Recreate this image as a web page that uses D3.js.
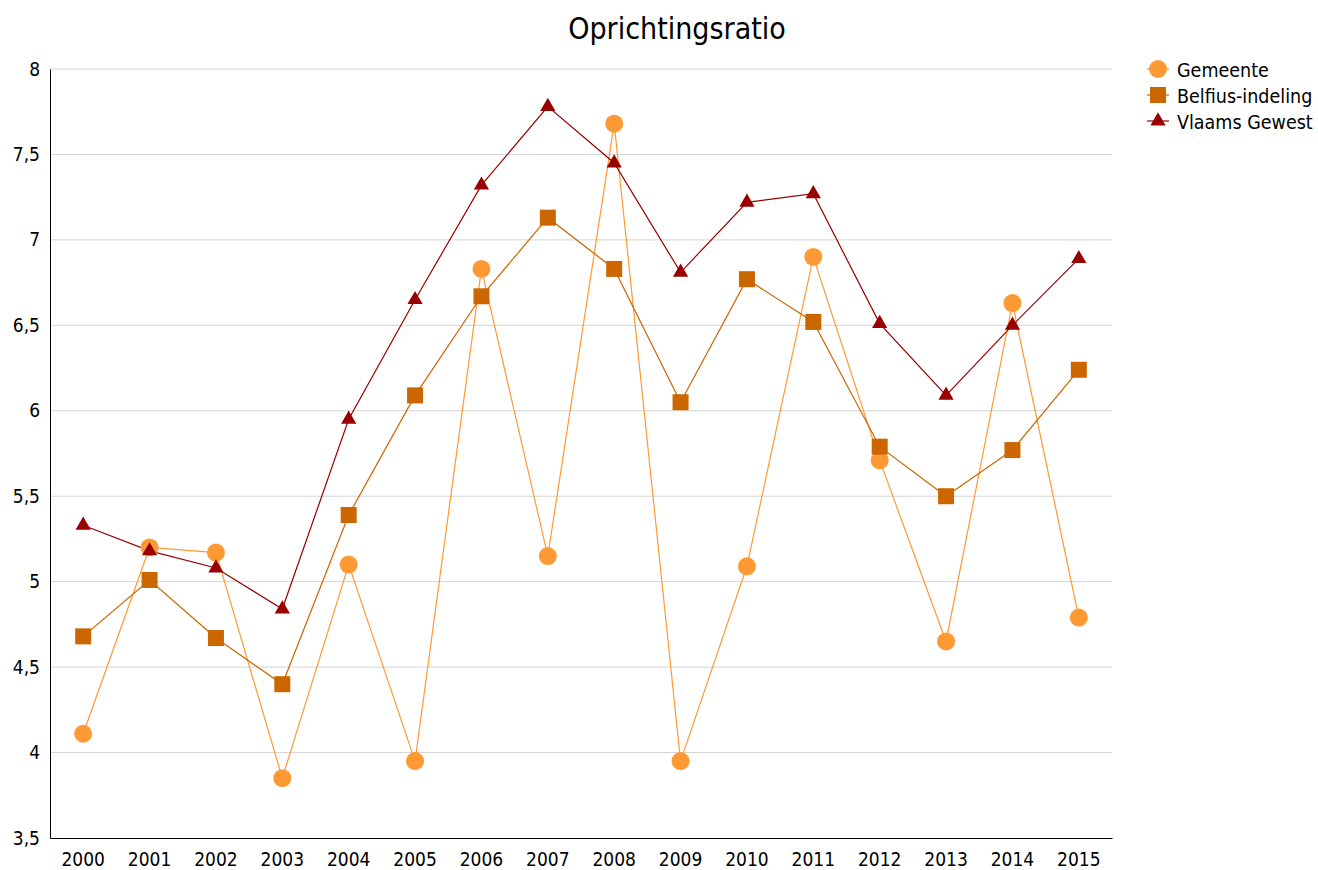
<!DOCTYPE html>
<html>
<head>
<meta charset="utf-8">
<script src="https://cdn.jsdelivr.net/npm/d3@7"></script>
<style>
  body { margin: 0; background: #fff; }
  svg { display: block; font-family: "DejaVu Sans Condensed", "DejaVu Sans", sans-serif; }
</style>
</head>
<body>
<svg id="chart" width="1318" height="870"></svg>
<script>
// Years on the horizontal axis
const years = ["2000","2001","2002","2003","2004","2005","2006","2007",
               "2008","2009","2010","2011","2012","2013","2014","2015"];

// Oprichtingsratio per series
const gemeente = [4.11, 5.20, 5.17, 3.85, 5.10, 3.95, 6.83, 5.15,
                  7.68, 3.95, 5.09, 6.90, 5.71, 4.65, 6.63, 4.79];
const belfius  = [4.68, 5.01, 4.67, 4.40, 5.39, 6.09, 6.67, 7.13,
                  6.83, 6.05, 6.77, 6.52, 5.79, 5.50, 5.77, 6.24];
const vlaams   = [5.33, 5.18, 5.08, 4.84, 5.95, 6.65, 7.32, 7.78,
                  7.45, 6.81, 7.22, 7.27, 6.51, 6.09, 6.50, 6.89];

const yTicks = [3.5, 4, 4.5, 5, 5.5, 6, 6.5, 7, 7.5, 8];

const series = [
  { name: "Gemeente",         values: gemeente, color: "#ff9933", shape: "circle" },
  { name: "Belfius-indeling", values: belfius,  color: "#cc6600", shape: "square" },
  { name: "Vlaams Gewest",    values: vlaams,   color: "#990000", shape: "triangle" }
];

const svg = d3.select("#chart");
const plotLeft = 50, plotRight = 1112, plotTop = 69, plotBottom = 838;

const x = d3.scaleBand().domain(years).range([plotLeft, plotRight]);
const y = d3.scaleLinear().domain([3.5, 8]).range([plotBottom, plotTop]);
const fmt = v => String(v).replace(".", ",");

// Title
svg.append("text")
  .attr("x", 677).attr("y", 39)
  .attr("text-anchor", "middle")
  .attr("font-size", 30)
  .attr("fill", "#000")
  .text("Oprichtingsratio");

// Horizontal gridlines
svg.append("g").selectAll("line")
  .data(yTicks.filter(t => t > 3.5))
  .join("line")
  .attr("x1", plotLeft).attr("x2", plotRight)
  .attr("y1", d => y(d)).attr("y2", d => y(d))
  .attr("stroke", "#d4d4d4").attr("stroke-width", 1);

// Y axis
const yAxis = svg.append("g")
  .attr("transform", `translate(${plotLeft},0)`)
  .call(d3.axisLeft(y).tickValues(yTicks).tickFormat(fmt).tickSize(0).tickPadding(10));
yAxis.select(".domain").attr("stroke", "#000");
yAxis.selectAll("text").attr("font-size", 19).attr("fill", "#000")
  .attr("font-family", "DejaVu Sans Condensed, DejaVu Sans, sans-serif");

// X axis
const xAxis = svg.append("g")
  .attr("transform", `translate(0,${plotBottom})`)
  .call(d3.axisBottom(x).tickSize(0).tickPadding(15));
xAxis.select(".domain").attr("stroke", "#000");
xAxis.selectAll("text").attr("font-size", 19).attr("fill", "#000")
  .attr("font-family", "DejaVu Sans Condensed, DejaVu Sans, sans-serif");

const cx = d => x(d) + x.bandwidth() / 2;

const symbolPath = {
  circle:   d3.symbol().type(d3.symbolCircle).size(Math.PI * 9 * 9)(),
  square:   d3.symbol().type(d3.symbolSquare).size(16 * 16)(),
  triangle: d3.symbol().type(d3.symbolTriangle).size(100)()
};

const line = d3.line().x((d, i) => cx(years[i])).y(d => y(d));

// Lines first, then markers on top, in series order
series.forEach(s => {
  svg.append("path")
    .datum(s.values)
    .attr("d", line)
    .attr("fill", "none")
    .attr("stroke", s.color)
    .attr("stroke-width", 1.2);
});
series.forEach(s => {
  svg.append("g").selectAll("path")
    .data(s.values)
    .join("path")
    .attr("d", symbolPath[s.shape])
    .attr("transform", (d, i) => `translate(${cx(years[i])},${y(d)})`)
    .attr("fill", s.color);
});

// Legend
const legend = svg.append("g").attr("transform", "translate(1147,69)");
series.forEach((s, i) => {
  const g = legend.append("g").attr("transform", `translate(0,${i * 26})`);
  g.append("line").attr("x1", 0).attr("x2", 22).attr("y1", 0).attr("y2", 0)
    .attr("stroke", s.color).attr("stroke-width", 1.2);
  g.append("path").attr("d", symbolPath[s.shape])
    .attr("transform", "translate(11,0)").attr("fill", s.color);
  g.append("text").attr("x", 30).attr("y", 1).attr("dy", "0.35em")
    .attr("font-size", 19.5).attr("fill", "#000").text(s.name);
});
</script>
</body>
</html>
